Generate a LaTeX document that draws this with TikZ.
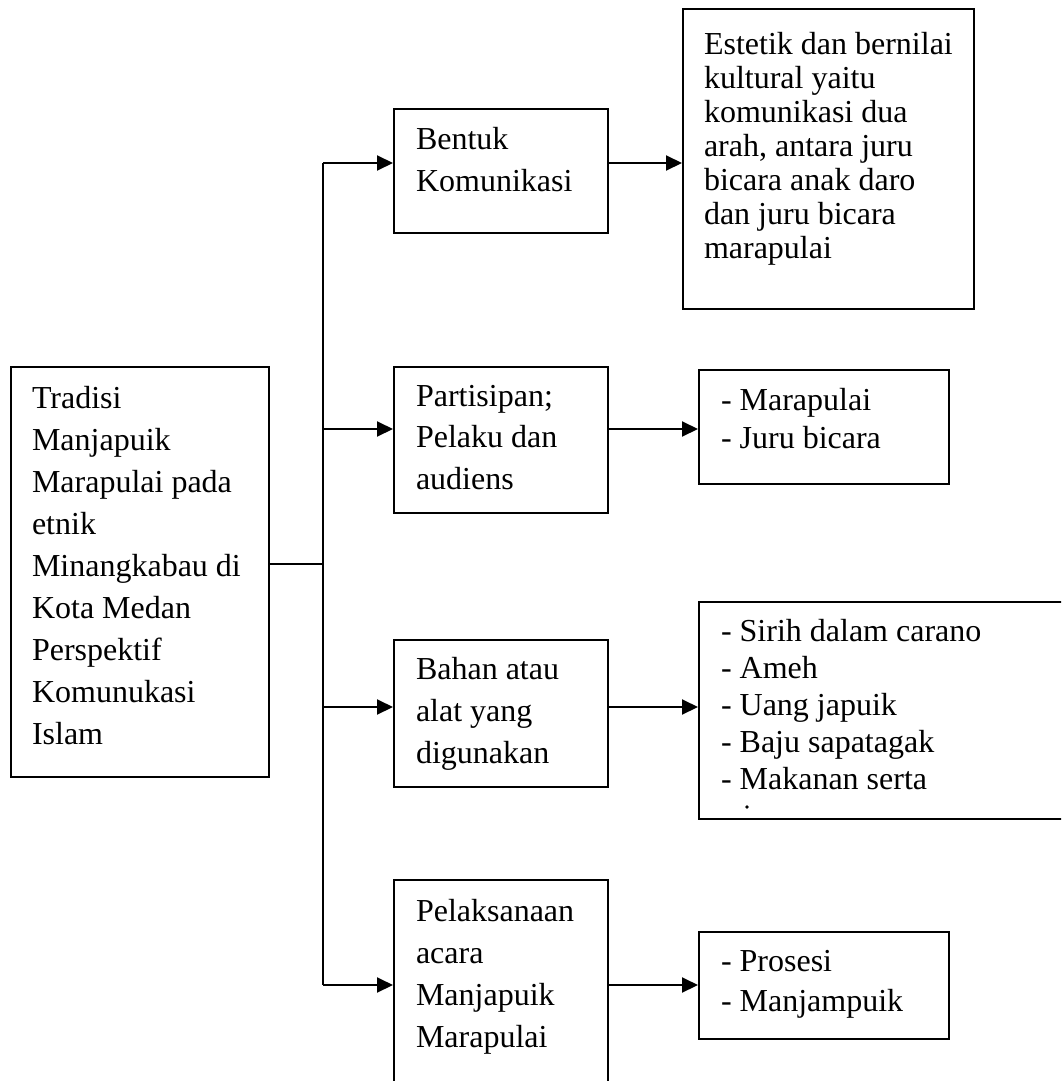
\documentclass[tikz,border=0pt]{standalone}
\usepackage{fontspec}
\setmainfont{Liberation Serif}
\usetikzlibrary{arrows.meta}

\begin{document}
\begin{tikzpicture}[x=1pt,y=-1pt,
  line width=2pt,
  boxnode/.style={draw, line width=2pt, inner sep=0pt, anchor=north west, rectangle},
  txt/.style={inner sep=0pt, anchor=north west, align=left},
  arr/.style={-{Triangle[length=16pt,width=15pt]}},
  sk/.style={font=\fontsize{32}{#1}\selectfont}
]
\useasboundingbox (0,0) rectangle (1061,1081);
\clip (0,0) rectangle (1061,1081);
\newcommand{\tl}{\rule{0pt}{30pt}}

% boxes
\node[boxnode, minimum width=258pt, minimum height=410pt] (main) at (10,366) {};
\node[boxnode, minimum width=214pt, minimum height=124pt] (bentuk) at (393,108) {};
\node[boxnode, minimum width=291pt, minimum height=300pt] (estetik) at (682,8) {};
\node[boxnode, minimum width=214pt, minimum height=146pt] (partisipan) at (393,366) {};
\node[boxnode, minimum width=250pt, minimum height=114pt] (pelaku) at (698,369) {};
\node[boxnode, minimum width=214pt, minimum height=147pt] (bahan) at (393,639) {};
\node[boxnode, minimum width=420pt, minimum height=217pt] (alat) at (698,601) {};
\node[boxnode, minimum width=214pt, minimum height=260pt] (pelaksanaan) at (393,879) {};
\node[boxnode, minimum width=250pt, minimum height=107pt] (prosesi) at (698,931) {};

% texts (first baseline 30pt below the node top)
\node[txt, sk=42] (tmain) at (31,377) {\tl Tradisi\\Manjapuik\\Marapulai pada\\etnik\\Minangkabau di\\Kota Medan\\Perspektif\\Komunukasi\\Islam};
\node[txt, sk=42] (tbentuk) at (415,118) {\tl Bentuk\\Komunikasi};
\node[txt, sk=34] (testetik) at (703,23) {\tl Estetik dan bernilai\\kultural yaitu\\komunikasi dua\\arah, antara juru\\bicara anak daro\\dan juru bicara\\marapulai};
\node[txt, sk=41.5] (tpartisipan) at (415,375) {\tl Partisipan;\\Pelaku dan\\audiens};
\node[txt, sk=38] (tpelaku) at (720,379) {\tl - Marapulai\\- Juru bicara};
\node[txt, sk=42] (tbahan) at (415,648) {\tl Bahan atau\\alat yang\\digunakan};
\node[txt, sk=37] (talat) at (720,610) {\tl - Sirih dalam carano\\- Ameh\\- Uang japuik\\- Baju sapatagak\\- Makanan serta};
\node[txt, sk=42] (tpelaksanaan) at (415,890) {\tl Pelaksanaan\\acara\\Manjapuik\\Marapulai};
\node[txt, sk=40] (tprosesi) at (720,940) {\tl - Prosesi\\- Manjampuik};
\fill (747,807) circle (1.8pt);

% trunk and branches
\coordinate (jmain) at (323,564);
\coordinate (s1) at (323,163);
\coordinate (s2) at (323,429);
\coordinate (s3) at (323,707);
\coordinate (s4) at (323,985);
\draw (main.east |- jmain) -- (jmain);
\draw (s1) -- (s4);
\draw[arr] (s1) -- (s1 -| bentuk.west);
\draw[arr] (s2) -- (s2 -| partisipan.west);
\draw[arr] (s3) -- (s3 -| bahan.west);
\draw[arr] (s4) -- (s4 -| pelaksanaan.west);

% links to the detail boxes
\draw[arr] (s1 -| bentuk.east) -- (s1 -| estetik.west);
\draw[arr] (s2 -| partisipan.east) -- (s2 -| pelaku.west);
\draw[arr] (s3 -| bahan.east) -- (s3 -| alat.west);
\draw[arr] (s4 -| pelaksanaan.east) -- (s4 -| prosesi.west);
\end{tikzpicture}
\end{document}
